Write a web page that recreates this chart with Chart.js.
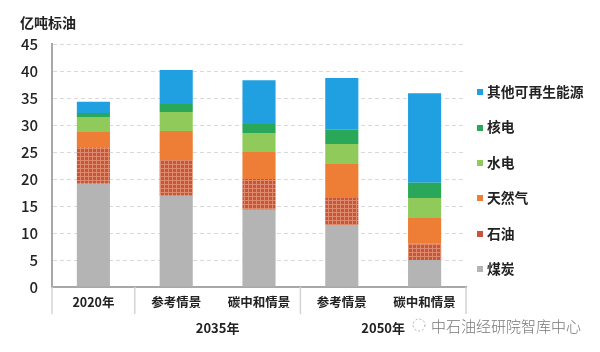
<!DOCTYPE html>
<html><head><meta charset="utf-8">
<script src="https://cdn.jsdelivr.net/npm/chart.js@4.4.0/dist/chart.umd.min.js"></script>
<style>
html,body{margin:0;padding:0;background:#fff;}
#wrap{position:relative;width:600px;height:352px;overflow:hidden;font-family:"Noto Sans CJK SC","Noto Sans",sans-serif;}
#legend{position:absolute;left:0;top:0;width:600px;height:352px;pointer-events:none;}
.li{position:absolute;left:477px;height:18px;line-height:18px;font-size:13.8px;font-weight:700;color:#222;white-space:nowrap;}
.li span.sw{display:inline-block;width:6px;height:6px;margin-right:4px;vertical-align:middle;position:relative;top:-1px;}
</style></head>
<body>
<div id="wrap"><canvas id="c" width="600" height="352"></canvas><div id="legend"></div></div>
<script>
const categories = ['2020年','参考情景','碳中和情景','参考情景','碳中和情景'];
const groups = [{label:'2035年', from:1, to:2}, {label:'2050年', from:3, to:4}];
const yTicks = [0,5,10,15,20,25,30,35,40,45];
const coal    = [19.1, 16.9, 14.3, 11.5, 5.0];
const oil     = [6.8, 6.6, 5.7, 5.0, 3.0];
const gas     = [2.8, 5.4, 5.0, 6.3, 4.8];
const hydro   = [2.8, 3.5, 3.5, 3.7, 3.7];
const nuclear = [0.7, 1.5, 1.7, 2.6, 2.8];
const other   = [2.1, 6.3, 8.1, 9.6, 16.6];
const seriesNames = ['煤炭','石油','天然气','水电','核电','其他可再生能源'];
const unitTitle = '亿吨标油';
const watermark = '中石油经研院智库中心';

const FONT = '"Noto Sans CJK SC","Noto Sans",sans-serif';
function makeOilPattern(){
  const p = document.createElement('canvas'); p.width = 4; p.height = 4;
  const g = p.getContext('2d');
  g.fillStyle = '#c8553b'; g.fillRect(0,0,4,4);
  g.fillStyle = '#de8a6c'; g.fillRect(0,0,4,1); g.fillRect(0,0,1,4);
  return g.createPattern(p,'repeat');
}
const ctx0 = document.getElementById('c').getContext('2d');
const colors = ['#b4b4b4', makeOilPattern(), '#ee7d35', '#8fca5a', '#2aa85a', '#20a0e0'];
const swatch = ['#b4b4b4', '#c8553b', '#ee7d35', '#8fca5a', '#2aa85a', '#20a0e0'];
const values = [coal, oil, gas, hydro, nuclear, other];

const extras = {
  id:'extras',
  afterDraw(chart){
    const ctx = chart.ctx, xs = chart.scales.x, a = chart.chartArea;
    const step = xs.getPixelForValue(1) - xs.getPixelForValue(0);
    const bounds = [a.left, a.right];
    groups.forEach(g => { bounds.push(xs.getPixelForValue(g.from) - step/2); });
    ctx.save();
    ctx.strokeStyle = '#d4d4d4'; ctx.lineWidth = 1.5;
    bounds.forEach(x => { ctx.beginPath(); ctx.moveTo(x, a.bottom); ctx.lineTo(x, a.bottom + 27); ctx.stroke(); });
    ctx.fillStyle = '#222'; ctx.font = '700 13px ' + FONT; ctx.textAlign = 'center'; ctx.textBaseline = 'middle';
    groups.forEach(g => {
      const x = (xs.getPixelForValue(g.from) + xs.getPixelForValue(g.to)) / 2;
      ctx.fillText(g.label, x, a.bottom + 41);
    });
    ctx.textAlign = 'left'; ctx.font = '700 14px ' + FONT;
    ctx.fillText(unitTitle, 20, 23);
    // watermark
    ctx.strokeStyle = '#aaa'; ctx.lineWidth = 1; ctx.setLineDash([2,2]);
    ctx.beginPath(); ctx.arc(419, 325, 6, 0, Math.PI*2); ctx.stroke();
    ctx.setLineDash([]);
    ctx.fillStyle = '#777'; ctx.font = '300 15px ' + FONT;
    ctx.fillText(watermark, 431, 326);
    ctx.restore();
  }
};

new Chart(ctx0, {
  type:'bar',
  data:{
    labels: categories,
    datasets: seriesNames.map((n,i)=>({label:n, data:values[i], backgroundColor:colors[i], borderWidth:0, barPercentage:1, categoryPercentage:0.4}))
  },
  options:{
    responsive:false, animation:false, devicePixelRatio:1,
    layout:{padding:{top:44, left:0, right:134, bottom:0}},
    plugins:{legend:{display:false}, tooltip:{enabled:false}},
    scales:{
      x:{stacked:true,
        grid:{display:false, drawTicks:false},
        border:{color:'#a8a8a8', width:2},
        ticks:{padding:8, color:'#222', font:{family:FONT, size:12.5, weight:'700'}},
        afterFit(s){ s.width; s.height = 65; }
      },
      y:{stacked:true, min:0, max:45,
        afterBuildTicks(s){ s.ticks = yTicks.map(v=>({value:v})); },
        grid:{color:'#d9d9d9', drawTicks:false, lineWidth:1},
        border:{color:'#a8a8a8', width:2, dash:[4,3]},
        ticks:{padding:14, color:'#222', font:{family:FONT, size:15, weight:'500'}},
        afterFit(s){ s.width = 52; }
      }
    }
  },
  plugins:[extras]
});

// HTML legend (reverse order, top = 其他可再生能源)
const lg = document.getElementById('legend');
seriesNames.slice().reverse().forEach((n,i)=>{
  const idx = seriesNames.length - 1 - i;
  const d = document.createElement('div'); d.className='li';
  d.style.top = (82 + i*35.4) + 'px';
  d.innerHTML = '<span class="sw" style="background:'+swatch[idx]+'"></span>' + n;
  lg.appendChild(d);
});
</script>
</body></html>
